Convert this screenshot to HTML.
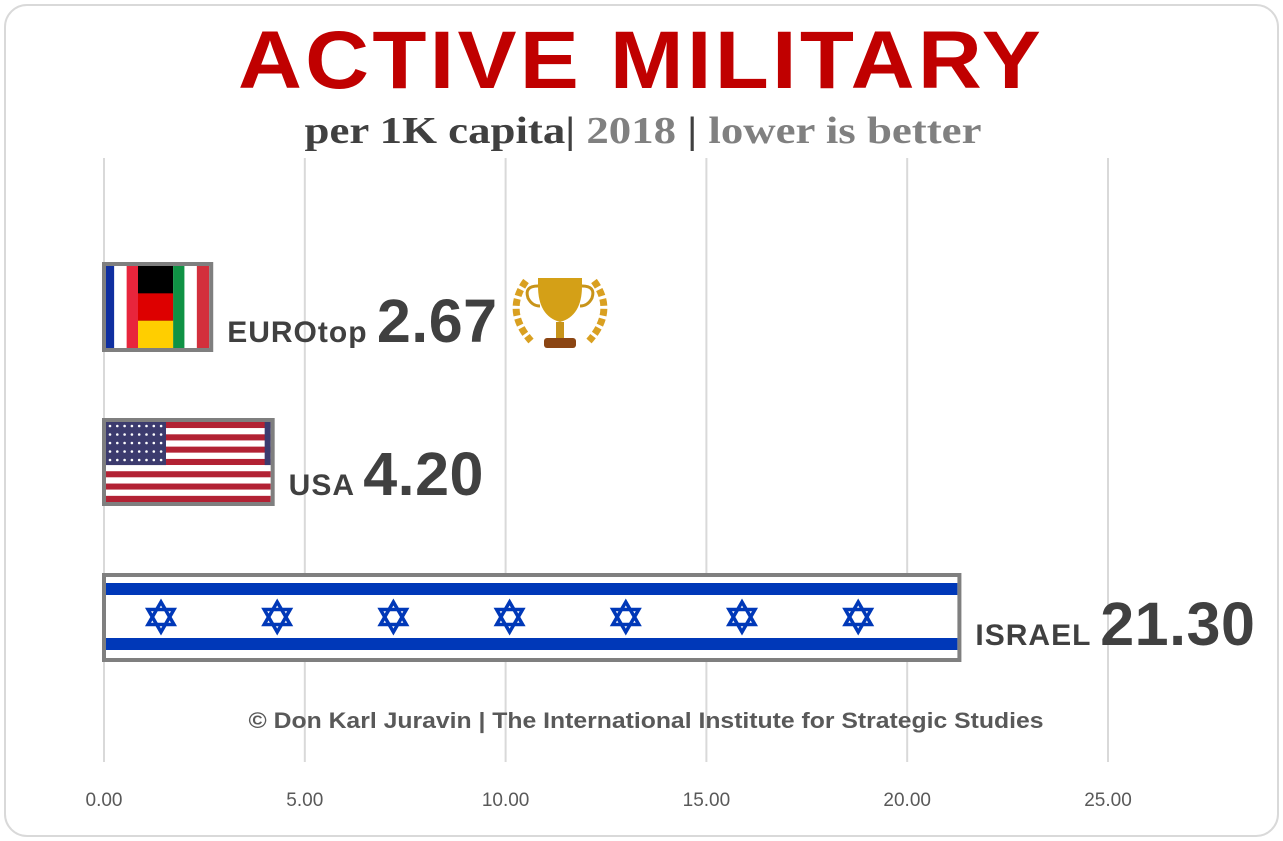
<!DOCTYPE html>
<html><head><meta charset="utf-8"><style>
html,body{margin:0;padding:0;background:#fff}
svg{display:block;font-family:"Liberation Sans",sans-serif}
</style></head><body>
<svg id="chart" width="1283" height="841" viewBox="0 0 1283 841">
<rect x="5" y="5" width="1273" height="831" rx="22" fill="#fff" stroke="#d9d9d9" stroke-width="2"/>
<text x="641" y="88" text-anchor="middle" font-size="82" font-weight="900" fill="#c00000" letter-spacing="3" textLength="806" lengthAdjust="spacingAndGlyphs">ACTIVE MILITARY</text>
<text x="643" y="143" text-anchor="middle" font-family="Liberation Serif,serif" font-size="38" font-weight="bold" textLength="677" lengthAdjust="spacingAndGlyphs"><tspan fill="#404040">per 1K capita| </tspan><tspan fill="#808080"> 2018 </tspan><tspan fill="#404040"> | </tspan><tspan fill="#808080">lower is better</tspan></text>
<g id="grid"></g>
<g id="bars"></g>
<text x="646" y="728" text-anchor="middle" font-size="22" font-weight="bold" fill="#595959" textLength="795" lengthAdjust="spacingAndGlyphs">© Don Karl Juravin |  The International Institute for Strategic Studies</text>
<g id="trophy" transform="translate(560,316)">
<path d="M-22,-38 h44 v8 q0,30 -22,36 q-22,-6 -22,-36z" fill="#d4a017"/>
<path d="M-22,-30 q-14,0 -10,12 q4,8 12,8 M22,-30 q14,0 10,12 q-4,8 -12,8" stroke="#c8941a" stroke-width="3" fill="none"/>
<rect x="-4" y="6" width="8" height="16" fill="#c8941a"/>
<rect x="-16" y="22" width="32" height="10" rx="3" fill="#8b4513"/>
<path d="M-34,-35 q-22,30 5,60 M34,-35 q22,30 -5,60" stroke="#d9a021" stroke-width="7" fill="none" stroke-dasharray="7 3"/>
</g>
</svg>
<script>
const categories=["EUROtop","USA","ISRAEL"];
const values=[2.67,4.20,21.30];
const valueLabels=["2.67","4.20","21.30"];
const ticks=[0,5,10,15,20,25];
const tickLabels=["0.00","5.00","10.00","15.00","20.00","25.00"];
const NS="http://www.w3.org/2000/svg";
const x=v=>104+v*(1004/25);
const rowTop=[262,418,573];
const rowH=[90,88,89];
function mk(t,a,p){const e=document.createElementNS(NS,t);for(const k in a)e.setAttribute(k,a[k]);p.appendChild(e);return e;}
const grid=document.getElementById('grid');
ticks.forEach((t,i)=>{
 const l=mk('line',{x1:x(t),x2:x(t),y1:158,y2:762,stroke:'#d9d9d9','stroke-width':2},grid);
 
 
 const tx=mk('text',{x:x(t),y:806,'text-anchor':'middle','font-size':19,fill:'#595959'},grid);
 tx.textContent=tickLabels[i];
 
 
});
const bars=document.getElementById('bars');
categories.forEach((c,i)=>{
 const x0=x(0)-2,x1=x(values[i])+2,y0=rowTop[i],h=rowH[i],w=x1-x0;
 const g=mk('g',{},bars);
 
 
 const ix=x0+4,iy=y0+4,iw=w-8,ih=h-8;
 mk('rect',{x:ix,y:iy,width:iw,height:ih,fill:'#fff'},g);
 if(i===0){
  const f=iw/100;
  [['#0f2fa0',0,8],['#fff',8,20],['#e8253c',20,31],['#000',31,65],['#0f9244',65,76],['#fff',76,88],['#d32f3c',88,100]].forEach(s=>mk('rect',{x:ix+s[1]*f,y:iy,width:(s[2]-s[1])*f,height:ih,fill:s[0]},g));
  mk('rect',{x:ix+31*f,y:iy+ih/3,width:34*f,height:ih/3,fill:'#dd0000'},g);
  mk('rect',{x:ix+31*f,y:iy+2*ih/3,width:34*f,height:ih/3,fill:'#ffce00'},g);
 } else if(i===1){
  for(let s=0;s<13;s++)mk('rect',{x:ix,y:iy+s*ih/13,width:iw,height:ih/13,fill:s%2?'#fff':'#b22234'},g);
  mk('rect',{x:ix,y:iy,width:60,height:ih*7/13,fill:'#3c3b6e'},g);
  mk('rect',{x:ix+iw-6,y:iy,width:6,height:ih*7/13,fill:'#3c3b6e'},g);
  for(let r=0;r<5;r++)for(let k=0;k<8;k++)mk('circle',{cx:ix+4+k*7.3,cy:iy+4+r*8.5,r:1.3,fill:'#fff'},g);
 } else {
  mk('rect',{x:ix,y:y0+10,width:iw,height:12,fill:'#0038b8'},g);
  mk('rect',{x:ix,y:y0+65,width:iw,height:12,fill:'#0038b8'},g);
  for(let k=0;k<7;k++){const cx=161+k*116.2,cy=y0+44,r=15;
   const tri=a=>[0,1,2].map(j=>{const an=a+j*2*Math.PI/3;return (cx+r*Math.sin(an))+','+(cy-r*Math.cos(an));}).join(' ');
   mk('polygon',{points:tri(0),fill:'none',stroke:'#0038b8','stroke-width':3.5},g);
   mk('polygon',{points:tri(Math.PI),fill:'none',stroke:'#0038b8','stroke-width':3.5},g);}
 }
 mk('rect',{x:x0+2,y:y0+2,width:w-4,height:h-4,fill:'none',stroke:'#7f7f7f','stroke-width':4},g);
 const t=mk('text',{x:x1+14,y:[342,495,645][i],'font-weight':'bold',fill:'#404040'},bars);
 
 
 const a=mk('tspan',{'font-size':30,'letter-spacing':1},t);a.textContent=c+' ';
 const b=mk('tspan',{'font-size':61,'letter-spacing':0.5},t);b.textContent=valueLabels[i];
});
</script>
</body></html>
